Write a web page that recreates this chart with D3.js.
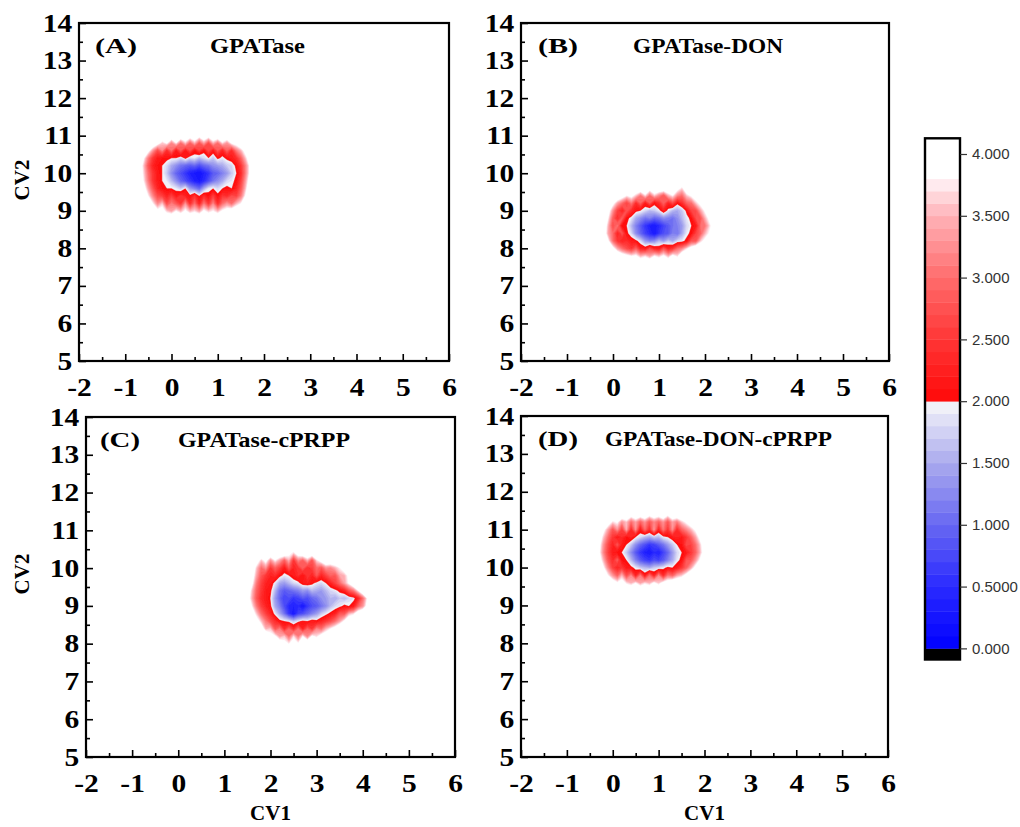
<!DOCTYPE html>
<html>
<head>
<meta charset="utf-8">
<script src="https://cdn.jsdelivr.net/npm/d3@7"></script>
<style>
  body { margin: 0; background: #ffffff; }
  svg { display: block; }
</style>
</head>
<body>
<svg id="chart" width="1020" height="827"></svg>
<script>
// ---------------- DATA ----------------
const cv1Ticks = [-2, -1, 0, 1, 2, 3, 4, 5, 6];
const cv1MinorTicks = [-1.5, -0.5, 0.5, 1.5, 2.5, 3.5, 4.5, 5.5];
const cv2Ticks = [5, 6, 7, 8, 9, 10, 11, 12, 13, 14];
const cv2MinorTicks = [5.5, 6.5, 7.5, 8.5, 9.5, 10.5, 11.5, 12.5, 13.5];
const colorbarTicks = [0, 0.5, 1, 1.5, 2, 2.5, 3, 3.5, 4];
const colorbarTickLabels = ["0.000", "0.5000", "1.000", "1.500", "2.000", "2.500", "3.000", "3.500", "4.000"];
const panelLetters = ["(A)", "(B)", "(C)", "(D)"];
const panelNames = ["GPATase", "GPATase-DON", "GPATase-cPRPP", "GPATase-DON-cPRPP"];

// free-energy grids (kcal/mol), rows from high CV2 to low CV2
const gridCv1Start = [-0.7, -0.2, 1.4, -0.4];   // CV1 of first column
const gridCv2Top   = [11.0, 9.8, 10.6, 11.6];   // CV2 of first row
const gridCv1Step = 0.1;
const gridCv2Step = 0.2;

const feA = [
 [4.5,4.5,4.5,4.5,4.5,4.5,4.5,4.5,4.5,4.5,4.5,4.3,4.5,4.1,4.5,4.2,4.5,4.5,4.5,4.5,4.5,4.5,4.5,4.5,4.5,4.5],
 [4.5,4.5,4.5,4.5,4.1,3.6,3.9,3.2,3.8,3.0,3.6,2.9,3.5,2.8,3.4,2.7,3.5,3.0,3.7,3.3,3.9,4.1,4.5,4.5,4.5,4.5],
 [4.5,4.5,4.0,3.3,2.7,3.2,2.4,3.0,2.2,2.8,2.2,2.7,2.1,2.6,2.1,2.7,2.2,2.8,2.3,2.9,2.4,3.1,3.5,4.1,4.5,4.5],
 [4.5,3.9,3.1,2.5,2.2,2.1,2.1,2.0,2.0,1.8,2.1,1.8,1.9,1.6,1.8,2.0,1.7,2.1,1.9,2.1,2.2,2.4,2.9,3.6,4.3,4.5],
 [4.4,3.6,2.8,2.3,2.1,2.0,1.8,1.5,1.3,1.1,1.0,0.9,1.0,0.8,1.0,1.1,1.3,1.4,1.5,1.7,1.8,2.1,2.5,3.2,4.0,4.5],
 [4.3,3.7,3.0,2.5,2.2,2.0,1.7,1.3,1.0,0.8,0.6,0.4,0.3,0.2,0.4,0.6,0.9,1.0,1.2,1.4,1.7,2.0,2.4,3.2,4.0,4.5],
 [4.5,3.8,3.1,2.5,2.2,2.0,1.9,1.6,1.3,1.0,0.8,0.6,0.4,0.3,0.5,0.8,1.1,1.3,1.5,1.8,1.9,2.1,2.6,3.4,4.2,4.5],
 [4.5,4.1,3.4,2.8,2.3,2.1,2.0,2.0,1.9,1.7,2.0,1.4,1.2,1.0,1.5,1.9,2.0,1.8,2.0,2.1,2.0,2.3,2.8,3.6,4.5,4.5],
 [4.5,4.5,3.8,3.2,2.7,2.6,2.3,2.6,2.2,2.5,2.3,2.1,2.5,2.0,2.4,2.1,2.6,2.1,2.5,2.4,2.7,2.6,3.1,3.9,4.5,4.5],
 [4.5,4.5,4.2,3.8,3.2,3.6,2.7,3.1,2.8,2.5,3.3,2.4,3.0,2.3,3.1,2.5,3.2,2.4,3.0,3.3,3.0,3.5,3.8,4.3,4.5,4.5],
 [4.5,4.5,4.5,4.3,4.0,4.1,3.6,3.4,3.8,3.5,3.9,3.5,3.7,3.4,3.9,3.6,3.8,3.5,3.9,4.1,4.2,4.4,4.5,4.5,4.5,4.5],
 [4.5,4.5,4.5,4.5,4.5,4.5,4.5,4.5,4.5,4.5,4.5,4.5,4.5,4.5,4.5,4.5,4.5,4.5,4.5,4.5,4.5,4.5,4.5,4.5,4.5,4.5]
];

const feB = [
 [4.5,4.5,4.5,4.5,4.5,4.5,4.5,4.5,4.5,4.5,4.5,4.5,4.5,4.5,4.5,4.5,4.5,4.5,4.5,4.5,4.5,4.5,4.5,4.5,4.5,4.5],
 [4.5,4.5,4.5,4.5,4.5,4.5,4.5,4.5,4.5,4.5,4.2,4.5,4.5,4.5,4.5,4.5,4.1,3.7,4.5,4.5,4.5,4.5,4.5,4.5,4.5,4.5],
 [4.5,4.5,4.5,4.5,4.2,3.8,4.0,3.6,3.1,3.7,3.0,3.6,3.2,2.8,3.5,3.8,3.2,3.0,3.6,3.9,4.2,4.5,4.5,4.5,4.5,4.5],
 [4.5,4.5,4.0,3.4,3.0,2.6,3.1,2.4,2.9,2.2,2.8,2.1,2.4,2.9,2.3,2.7,2.1,2.4,2.9,3.0,3.6,4.0,4.5,4.5,4.5,4.5],
 [4.5,4.1,3.3,2.6,2.3,2.8,2.4,2.1,2.0,1.8,1.6,1.7,1.9,2.3,1.9,1.6,1.5,1.7,2.1,2.6,2.7,3.4,3.9,4.5,4.5,4.5],
 [4.5,3.8,2.9,2.4,2.9,2.1,1.9,1.5,1.3,1.1,1.2,1.0,1.1,1.3,1.2,1.1,1.3,1.6,1.9,2.1,2.7,2.8,3.5,4.0,4.5,4.5],
 [4.4,3.5,2.7,3.1,2.1,2.0,1.6,1.2,0.9,0.6,0.4,0.3,0.5,0.7,0.9,1.1,1.2,1.4,1.8,2.0,2.2,3.0,3.1,3.7,4.2,4.5],
 [4.3,3.4,3.0,2.3,2.8,2.1,1.8,1.3,1.0,0.7,0.5,0.3,0.6,0.8,0.9,1.2,1.1,1.5,1.9,2.1,2.6,2.9,3.5,3.9,4.5,4.5],
 [4.5,3.9,3.0,2.5,2.3,2.4,2.2,2.1,1.8,1.4,1.2,1.3,1.6,1.4,1.7,1.5,1.8,1.9,2.1,2.8,2.8,3.6,4.0,4.5,4.5,4.5],
 [4.5,4.5,4.0,3.4,3.0,2.7,2.5,2.9,2.3,2.2,2.7,2.3,2.2,2.8,2.3,2.5,3.0,3.2,3.7,4.1,4.5,4.5,4.5,4.5,4.5,4.5],
 [4.5,4.5,4.5,4.5,4.2,4.0,3.8,3.9,3.5,3.7,3.4,3.8,3.6,3.9,3.5,4.0,3.7,4.5,4.5,4.5,4.5,4.5,4.5,4.5,4.5,4.5],
 [4.5,4.5,4.5,4.5,4.5,4.5,4.5,4.5,4.5,4.5,4.5,4.5,4.5,4.5,4.5,4.5,4.5,4.5,4.5,4.5,4.5,4.5,4.5,4.5,4.5,4.5]
];

const feC = [
 [4.5,4.5,4.5,4.5,4.5,4.5,4.5,4.5,4.5,4.5,4.5,4.5,4.5,4.5,4.5,4.5,4.5,4.5,4.5,4.5,4.5,4.5,4.5,4.5,4.5,4.5,4.5,4.5,4.5],
 [4.5,4.5,4.5,4.5,4.5,4.5,4.5,4.5,4.5,4.5,4.0,3.7,4.2,4.5,4.5,4.5,4.5,4.5,4.5,4.5,4.5,4.5,4.5,4.5,4.5,4.5,4.5,4.5,4.5],
 [4.5,4.5,4.5,4.2,3.6,4.0,3.3,3.8,3.4,2.9,3.5,2.5,3.2,2.9,3.5,2.8,3.7,4.1,4.5,4.5,4.5,4.5,4.5,4.5,4.5,4.5,4.5,4.5,4.5],
 [4.5,4.5,4.4,3.6,3.0,3.3,2.5,2.9,2.6,2.2,2.8,2.3,2.5,2.9,2.4,2.6,3.0,2.8,3.3,3.2,3.5,3.8,4.2,4.5,4.5,4.5,4.5,4.5,4.5],
 [4.5,4.5,4.2,3.4,2.8,2.5,2.3,2.4,2.1,1.9,2.0,2.2,2.4,2.1,2.5,2.3,2.8,2.3,2.6,2.9,2.8,3.4,3.5,4.0,4.5,4.5,4.5,4.5,4.5],
 [4.5,4.5,4.0,3.1,2.6,2.3,2.2,1.9,1.5,1.4,1.6,1.8,1.9,2.2,2.3,2.1,1.9,1.8,2.0,2.3,2.6,3.0,3.4,3.9,4.5,4.5,4.5,4.5,4.5],
 [4.5,4.4,3.6,2.9,2.5,2.2,2.1,1.6,1.1,0.9,1.0,1.1,1.2,1.4,1.3,1.6,1.5,1.4,1.6,1.8,1.9,2.1,2.3,2.8,3.1,3.8,4.5,4.5,4.5],
 [4.5,4.2,3.5,2.8,2.4,2.2,2.0,1.4,1.0,0.7,0.8,0.6,0.7,0.9,0.8,1.0,1.1,1.3,1.4,1.6,1.5,1.7,1.6,1.8,1.9,2.3,3.0,3.9,4.5],
 [4.5,4.4,3.8,3.1,2.6,2.3,2.1,1.5,1.2,0.8,0.5,0.4,0.5,0.3,0.6,0.8,0.9,1.1,1.3,1.6,1.8,1.9,2.1,2.0,2.2,2.9,3.3,4.1,4.5],
 [4.5,4.5,4.2,3.6,3.0,2.6,2.3,1.9,1.5,1.1,0.6,0.3,0.7,0.8,1.0,1.2,1.4,1.7,1.9,2.1,2.3,2.8,2.8,3.5,3.7,4.3,4.5,4.5,4.5],
 [4.5,4.5,4.5,4.1,3.6,3.1,2.7,2.4,2.1,2.0,1.9,1.7,1.9,2.1,2.0,2.2,2.1,2.3,2.5,2.7,3.0,3.4,3.9,4.4,4.5,4.5,4.5,4.5,4.5],
 [4.5,4.5,4.5,4.5,4.2,3.5,3.6,2.8,3.1,2.4,2.9,2.4,3.0,2.3,2.9,2.5,3.2,3.0,3.5,3.8,4.1,4.5,4.5,4.5,4.5,4.5,4.5,4.5,4.5],
 [4.5,4.5,4.5,4.5,4.5,4.5,4.0,3.9,3.4,3.6,3.0,3.7,3.1,3.8,3.2,3.9,3.7,4.1,4.3,4.5,4.5,4.5,4.5,4.5,4.5,4.5,4.5,4.5,4.5],
 [4.5,4.5,4.5,4.5,4.5,4.5,4.5,4.5,4.3,4.0,3.8,4.1,3.9,4.2,4.5,4.5,4.5,4.5,4.5,4.5,4.5,4.5,4.5,4.5,4.5,4.5,4.5,4.5,4.5],
 [4.5,4.5,4.5,4.5,4.5,4.5,4.5,4.5,4.5,4.5,4.5,4.5,4.5,4.5,4.5,4.5,4.5,4.5,4.5,4.5,4.5,4.5,4.5,4.5,4.5,4.5,4.5,4.5,4.5]
];

const feD = [
 [4.5,4.5,4.5,4.5,4.5,4.5,4.5,4.5,4.5,4.5,4.5,4.5,4.5,4.5,4.5,4.5,4.5,4.5,4.5,4.5,4.5,4.5,4.5,4.5,4.5,4.5],
 [4.5,4.5,4.5,4.5,4.5,4.5,4.5,4.5,4.2,4.5,4.3,4.5,4.1,4.4,4.2,4.5,4.0,4.5,4.5,4.5,4.5,4.5,4.5,4.5,4.5,4.5],
 [4.5,4.5,4.5,4.2,3.7,3.9,3.3,3.6,3.0,3.4,2.9,3.3,2.8,3.2,2.9,3.3,2.8,3.4,3.1,3.6,3.9,4.3,4.5,4.5,4.5,4.5],
 [4.5,4.5,4.0,3.4,2.8,3.3,2.6,3.5,2.4,3.3,2.2,3.0,2.4,3.4,2.3,3.1,2.5,3.3,2.4,2.9,3.2,3.5,3.9,4.5,4.5,4.5],
 [4.5,4.3,3.6,3.0,2.5,2.2,2.4,2.1,2.3,2.0,1.8,1.6,1.5,1.7,1.6,1.9,2.0,2.2,2.3,2.2,2.5,2.9,3.4,4.0,4.5,4.5],
 [4.5,4.1,3.3,2.7,2.3,2.8,2.2,2.0,1.7,1.3,1.0,0.8,0.6,0.7,0.9,1.1,1.4,1.7,2.0,2.1,2.7,2.6,3.0,3.6,4.3,4.5],
 [4.5,4.0,3.2,2.6,2.2,2.1,2.0,1.7,1.3,0.9,0.6,0.4,0.3,0.5,0.4,0.7,1.0,1.4,1.8,2.0,2.2,2.5,2.9,3.5,4.2,4.5],
 [4.5,4.2,3.5,2.8,2.4,2.9,2.1,2.0,1.6,1.2,0.9,0.7,0.6,0.8,0.7,0.9,1.2,1.5,1.9,2.1,2.8,2.8,3.3,3.9,4.5,4.5],
 [4.5,4.5,3.9,3.2,2.6,2.3,2.5,2.2,2.1,1.9,1.7,1.6,1.5,1.7,1.8,1.9,2.1,2.0,2.2,2.5,2.9,3.4,4.0,4.5,4.5,4.5],
 [4.5,4.5,4.3,3.8,3.3,2.9,3.5,2.7,3.2,2.3,3.1,2.2,3.0,2.3,3.2,2.4,3.1,2.9,3.4,3.6,4.0,4.5,4.5,4.5,4.5,4.5],
 [4.5,4.5,4.5,4.5,4.2,3.9,4.1,3.7,3.5,3.8,3.4,3.7,3.5,3.9,3.6,4.0,4.2,4.5,4.5,4.5,4.5,4.5,4.5,4.5,4.5,4.5],
 [4.5,4.5,4.5,4.5,4.5,4.5,4.5,4.5,4.5,4.5,4.5,4.5,4.5,4.5,4.5,4.5,4.5,4.5,4.5,4.5,4.5,4.5,4.5,4.5,4.5,4.5]
];
const feGrids = [feA, feB, feC, feD];

// colour map (value stops -> colours)
const colorStops  = [0, 0.5, 1.0, 1.5, 1.95, 2.0, 2.5, 3.0, 3.5, 3.75, 3.85];
const colorValues = ["#0000ff", "#2a2aff", "#6767f2", "#aaaaee", "#f0f0f8", "#ff0808", "#ff3636", "#ff6c6c", "#ffb2b8", "#ffeaee", "#ffffff"];
const levelStep = 0.1;
const levels = d3.range(1, 40).map(i => i / 10);   // 0.1 .. 3.9

// ---------------- LAYOUT ----------------
const layout = [
  { left: 79,  top: 23,  w: 370, h: 338, letterDx: 16, nameDx: 131, letterW: 42, nameW: 95,  yTitle: true,  xTitle: false },
  { left: 521, top: 23,  w: 368, h: 338, letterDx: 17, nameDx: 112, letterW: 40, nameW: 150, yTitle: false, xTitle: false },
  { left: 86,  top: 417, w: 369, h: 340, letterDx: 14, nameDx: 92,  letterW: 40, nameW: 172, yTitle: true,  xTitle: true },
  { left: 521, top: 416, w: 367, h: 341, letterDx: 17, nameDx: 84,  letterW: 40, nameW: 227, yTitle: false, xTitle: true }
];
const serif = "'Liberation Serif', 'Times New Roman', serif";
const sans = "'Liberation Sans', Arial, sans-serif";

const svg = d3.select("#chart");
const defs = svg.append("defs");
defs.append("filter").attr("id", "soft")
  .attr("x", "-10%").attr("y", "-10%").attr("width", "120%").attr("height", "120%")
  .append("feGaussianBlur").attr("stdDeviation", 0.7);

const color = d3.scaleLinear().domain(colorStops).range(colorValues).clamp(true);

layout.forEach((L, p) => {
  const x = d3.scaleLinear().domain([-2, 6]).range([0, L.w]);
  const y = d3.scaleLinear().domain([5, 14]).range([L.h, 0]);
  const g = svg.append("g").attr("transform", `translate(${L.left},${L.top})`);

  defs.append("clipPath").attr("id", "clip" + p)
    .append("rect").attr("width", L.w).attr("height", L.h);

  // ---- free energy surface ----
  const grid = feGrids[p];
  const ny = grid.length, nx = grid[0].length;
  const flat = grid.flat().map(v => -v);
  const c0 = gridCv1Start[p], r0 = gridCv2Top[p];
  const proj = d3.geoTransform({
    point: function (gx, gy) {
      this.stream.point(x(c0 + (gx - 0.5) * gridCv1Step), y(r0 - (gy - 0.5) * gridCv2Step));
    }
  });
  const path = d3.geoPath(proj);
  const contours = d3.contours().size([nx, ny]).thresholds(levels.map(t => -t))(flat)
    .sort((a, b) => a.value - b.value);
  g.append("g").attr("clip-path", `url(#clip${p})`)
    .append("g").attr("filter", "url(#soft)")
    .selectAll("path").data(contours).join("path")
    .attr("d", path)
    .attr("fill", d => color(-d.value - levelStep / 2))
    .attr("fill-rule", "evenodd")
    .attr("stroke", d => color(-d.value - levelStep / 2))
    .attr("stroke-width", 0.3);

  // ---- axes ----
  const styleAxis = sel => {
    sel.select(".domain").remove();
    sel.selectAll(".tick line").attr("stroke", "#000").attr("stroke-width", 1.6);
  };
  const xMajor = g.append("g").attr("transform", `translate(0,${L.h})`)
    .call(d3.axisBottom(x).tickValues(cv1Ticks).tickSize(-7).tickPadding(17).tickFormat(d => String(d)));
  styleAxis(xMajor);
  const xMinor = g.append("g").attr("transform", `translate(0,${L.h})`)
    .call(d3.axisBottom(x).tickValues(cv1MinorTicks).tickSize(-4).tickFormat(""));
  styleAxis(xMinor);
  const yMajor = g.append("g")
    .call(d3.axisLeft(y).tickValues(cv2Ticks).tickSize(-7).tickPadding(5.8).tickFormat(d => String(d)));
  styleAxis(yMajor);
  const yMinor = g.append("g")
    .call(d3.axisLeft(y).tickValues(cv2MinorTicks).tickSize(-4).tickFormat(""));
  styleAxis(yMinor);
  [xMajor, yMajor].forEach(a => a.selectAll(".tick text")
    .attr("fill", "#000")
    .style("font-family", serif).style("font-weight", "bold").style("font-size", "25px")
    .attr("transform", "scale(1.18,1)"));

  // frame
  g.append("rect").attr("width", L.w).attr("height", L.h)
    .attr("fill", "none").attr("stroke", "#000").attr("stroke-width", 2.2);

  // panel letter and name
  g.append("text").text(panelLetters[p])
    .attr("x", L.letterDx).attr("y", 30)
    .attr("textLength", L.letterW).attr("lengthAdjust", "spacingAndGlyphs")
    .style("font-family", serif).style("font-weight", "bold").style("font-size", "22px");
  g.append("text").text(panelNames[p])
    .attr("x", L.nameDx).attr("y", 30)
    .attr("textLength", L.nameW).attr("lengthAdjust", "spacingAndGlyphs")
    .style("font-family", serif).style("font-weight", "bold").style("font-size", "20px");

  if (L.yTitle) {
    svg.append("text").text("CV2")
      .attr("transform", `translate(22,${L.top + 157}) rotate(-90)`)
      .attr("text-anchor", "middle").attr("dominant-baseline", "central")
      .style("font-family", serif).style("font-weight", "bold").style("font-size", "21px");
  }
  if (L.xTitle) {
    svg.append("text").text("CV1")
      .attr("x", L.left + L.w / 2).attr("y", 820)
      .attr("text-anchor", "middle")
      .style("font-family", serif).style("font-weight", "bold").style("font-size", "21px");
  }
});

// ---------------- COLOUR BAR ----------------
const cbX = 925, cbW = 35;
const cy = d3.scaleLinear().domain([-0.09, 4.127]).range([659.5, 138.3]);
const bands = [{ lo: -0.09, hi: 0, c: "#000000" }]
  .concat(d3.range(0, 39).map(i => ({ lo: i / 10, hi: (i + 1) / 10, c: color((i + 0.5) / 10) })))
  .concat([{ lo: 3.9, hi: 4.127, c: "#ffffff" }]);
const cb = svg.append("g");
cb.selectAll("rect.band").data(bands).join("rect").attr("class", "band")
  .attr("x", cbX).attr("width", cbW)
  .attr("y", d => cy(d.hi)).attr("height", d => cy(d.lo) - cy(d.hi) + 0.4)
  .attr("fill", d => d.c);
cb.append("rect").attr("x", cbX).attr("y", cy(4.127)).attr("width", cbW)
  .attr("height", cy(-0.09) - cy(4.127))
  .attr("fill", "none").attr("stroke", "#000").attr("stroke-width", 2.4);
const cbAxis = svg.append("g").attr("transform", `translate(${cbX + cbW},0)`)
  .call(d3.axisRight(cy).tickValues(colorbarTicks).tickSize(7).tickPadding(5)
    .tickFormat((d, i) => colorbarTickLabels[i]));
cbAxis.select(".domain").remove();
cbAxis.selectAll(".tick line").attr("stroke", "#333").attr("stroke-width", 1.2);
cbAxis.selectAll(".tick text").attr("fill", "#333")
  .style("font-family", sans).style("font-size", "15px");
</script>
</body>
</html>
